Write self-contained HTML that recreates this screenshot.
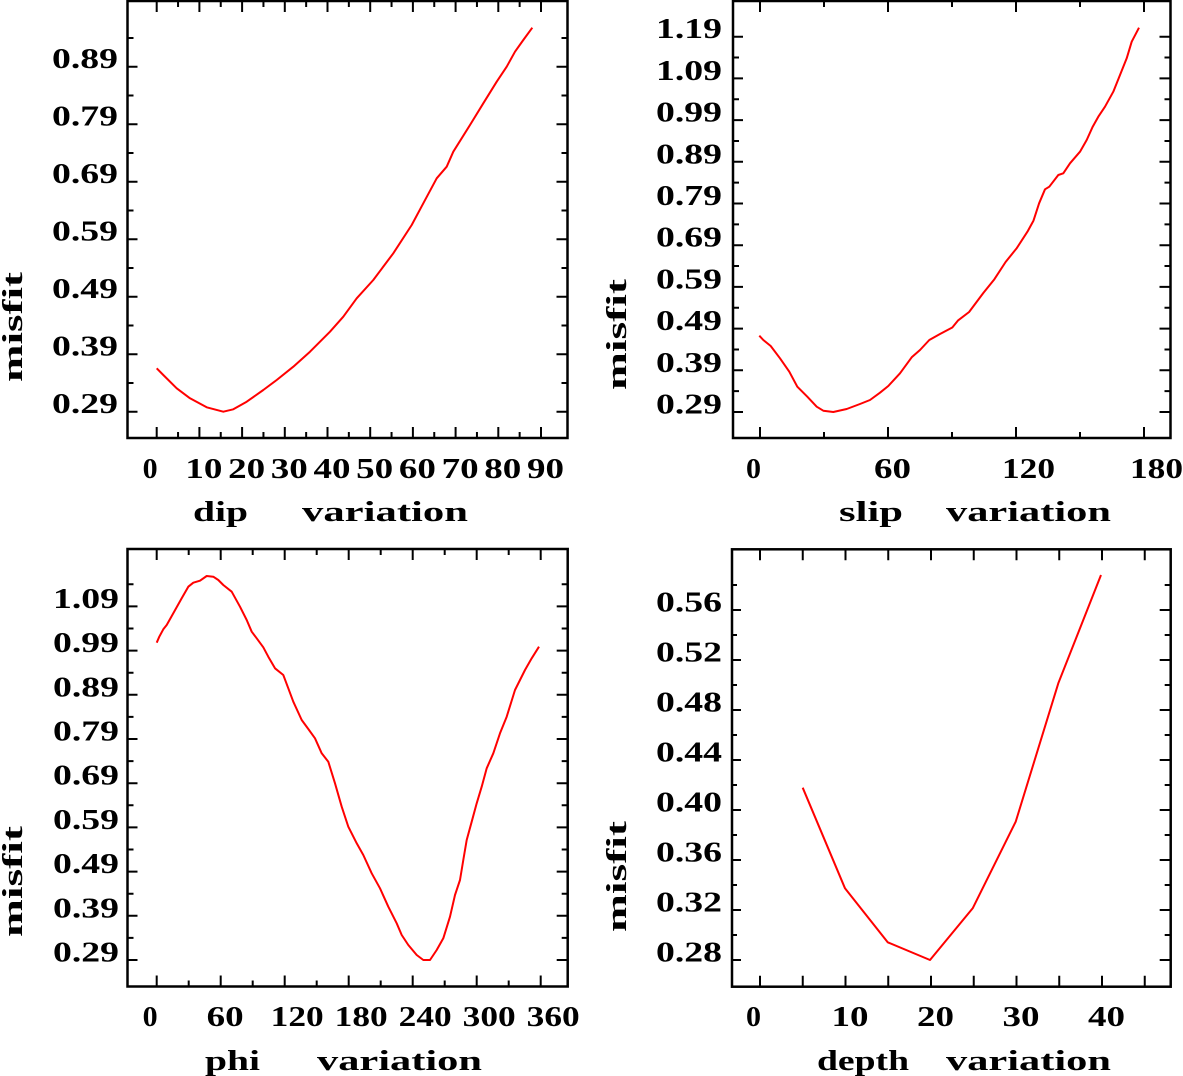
<!DOCTYPE html>
<html><head><meta charset="utf-8"><style>
html,body{margin:0;padding:0;background:#fff;}
svg{display:block;}
text{font-family:"Liberation Serif","DejaVu Serif",serif;font-weight:bold;fill:#000;}
.n{font-size:29px;}
.t{font-size:28px;}
</style></head><body>
<svg width="1183" height="1076" viewBox="0 0 1183 1076" xmlns="http://www.w3.org/2000/svg">
<rect width="1183" height="1076" fill="#fff"/>

<!-- ===== Panel TL: dip ===== -->
<rect x="127.5" y="1" width="440" height="437" fill="none" stroke="#000" stroke-width="2.5"/>
<path stroke="#000" stroke-width="2" fill="none" d="
M156.7 438v-11M178.05 438v-6M199.4 438v-11M220.75 438v-6M242.1 438v-11M263.45 438v-6M284.8 438v-11M306.15 438v-6M327.5 438v-11M348.85 438v-6M370.2 438v-11M391.55 438v-6M412.9 438v-11M434.25 438v-6M455.6 438v-11M476.95 438v-6M498.3 438v-11M519.65 438v-6M541 438v-11
M156.7 1v11M178.05 1v6M199.4 1v11M220.75 1v6M242.1 1v11M263.45 1v6M284.8 1v11M306.15 1v6M327.5 1v11M348.85 1v6M370.2 1v11M391.55 1v6M412.9 1v11M434.25 1v6M455.6 1v11M476.95 1v6M498.3 1v11M519.65 1v6M541 1v11
M127.5 411.7h10M127.5 382.95h6M127.5 354.2h10M127.5 325.45h6M127.5 296.7h10M127.5 267.95h6M127.5 239.2h10M127.5 210.45h6M127.5 181.7h10M127.5 152.95h6M127.5 124.2h10M127.5 95.45h6M127.5 66.7h10M127.5 37.95h6
M567.5 411.7h-11M567.5 382.95h-6M567.5 354.2h-11M567.5 325.45h-6M567.5 296.7h-11M567.5 267.95h-6M567.5 239.2h-11M567.5 210.45h-6M567.5 181.7h-11M567.5 152.95h-6M567.5 124.2h-11M567.5 95.45h-6M567.5 66.7h-11M567.5 37.95h-6"/>
<g class="n">
<text x="52" y="413.2" textLength="66" lengthAdjust="spacingAndGlyphs">0.29</text>
<text x="52" y="355.7" textLength="66" lengthAdjust="spacingAndGlyphs">0.39</text>
<text x="52" y="298.2" textLength="66" lengthAdjust="spacingAndGlyphs">0.49</text>
<text x="52" y="240.7" textLength="66" lengthAdjust="spacingAndGlyphs">0.59</text>
<text x="52" y="183.2" textLength="66" lengthAdjust="spacingAndGlyphs">0.69</text>
<text x="52" y="125.7" textLength="66" lengthAdjust="spacingAndGlyphs">0.79</text>
<text x="52" y="68.2" textLength="66" lengthAdjust="spacingAndGlyphs">0.89</text>
<text x="142.7" y="478" textLength="15" lengthAdjust="spacingAndGlyphs">0</text>
<text x="185.4" y="478" textLength="37" lengthAdjust="spacingAndGlyphs">10</text>
<text x="228.1" y="478" textLength="37" lengthAdjust="spacingAndGlyphs">20</text>
<text x="270.8" y="478" textLength="37" lengthAdjust="spacingAndGlyphs">30</text>
<text x="313.5" y="478" textLength="37" lengthAdjust="spacingAndGlyphs">40</text>
<text x="356.2" y="478" textLength="37" lengthAdjust="spacingAndGlyphs">50</text>
<text x="398.9" y="478" textLength="37" lengthAdjust="spacingAndGlyphs">60</text>
<text x="441.6" y="478" textLength="37" lengthAdjust="spacingAndGlyphs">70</text>
<text x="484.3" y="478" textLength="37" lengthAdjust="spacingAndGlyphs">80</text>
<text x="527" y="478" textLength="37" lengthAdjust="spacingAndGlyphs">90</text>
</g>
<g class="t">
<text x="193" y="521" textLength="55" lengthAdjust="spacingAndGlyphs">dip</text>
<text x="302" y="521" textLength="166" lengthAdjust="spacingAndGlyphs">variation</text>
<text transform="translate(22,382) rotate(-90)" x="0" y="0" textLength="110" lengthAdjust="spacingAndGlyphs">misfit</text>
</g>
<polyline fill="none" stroke="#f00" stroke-width="2" stroke-linejoin="round" points="156.7,368.3 163.3,375 176.7,388.3 190,398.3 206.7,407.3 223.3,411.7 233.3,409.3 246.7,401.7 263.3,390 276.7,380 293.3,366.7 310,351.7 330,331.7 343.3,316.7 356.7,298.3 373.3,280 393.3,253.3 411.7,225 423.3,203.3 436.7,178.3 446.7,166.7 453.3,151.7 470,125 483.3,103.3 496.7,81.7 506.7,66.7 515,51.7 523.3,40 532.3,27.7"/>

<!-- ===== Panel TR: slip ===== -->
<rect x="733" y="1" width="437.5" height="437" fill="none" stroke="#000" stroke-width="2.5"/>
<path stroke="#000" stroke-width="2" fill="none" d="
M760 438v-11M824 438v-6M888 438v-11M952 438v-6M1016 438v-11M1080 438v-6M1144 438v-11
M760 1v11M824 1v6M888 1v11M952 1v6M1016 1v11M1080 1v6M1144 1v11
M733 412h10M733 391.15h6M733 370.3h10M733 349.45h6M733 328.6h10M733 307.75h6M733 286.9h10M733 266.05h6M733 245.2h10M733 224.35h6M733 203.5h10M733 182.65h6M733 161.8h10M733 140.95h6M733 120.1h10M733 99.25h6M733 78.4h10M733 57.55h6M733 36.7h10
M1170.5 412h-11M1170.5 391.15h-6M1170.5 370.3h-11M1170.5 349.45h-6M1170.5 328.6h-11M1170.5 307.75h-6M1170.5 286.9h-11M1170.5 266.05h-6M1170.5 245.2h-11M1170.5 224.35h-6M1170.5 203.5h-11M1170.5 182.65h-6M1170.5 161.8h-11M1170.5 140.95h-6M1170.5 120.1h-11M1170.5 99.25h-6M1170.5 78.4h-11M1170.5 57.55h-6M1170.5 36.7h-11"/>
<g class="n">
<text x="656" y="413.5" textLength="66" lengthAdjust="spacingAndGlyphs">0.29</text>
<text x="656" y="371.8" textLength="66" lengthAdjust="spacingAndGlyphs">0.39</text>
<text x="656" y="330.1" textLength="66" lengthAdjust="spacingAndGlyphs">0.49</text>
<text x="656" y="288.4" textLength="66" lengthAdjust="spacingAndGlyphs">0.59</text>
<text x="656" y="246.7" textLength="66" lengthAdjust="spacingAndGlyphs">0.69</text>
<text x="656" y="205" textLength="66" lengthAdjust="spacingAndGlyphs">0.79</text>
<text x="656" y="163.3" textLength="66" lengthAdjust="spacingAndGlyphs">0.89</text>
<text x="656" y="121.6" textLength="66" lengthAdjust="spacingAndGlyphs">0.99</text>
<text x="656" y="79.9" textLength="66" lengthAdjust="spacingAndGlyphs">1.09</text>
<text x="656" y="38.2" textLength="66" lengthAdjust="spacingAndGlyphs">1.19</text>
<text x="746" y="478" textLength="15" lengthAdjust="spacingAndGlyphs">0</text>
<text x="874" y="478" textLength="37" lengthAdjust="spacingAndGlyphs">60</text>
<text x="1002" y="478" textLength="53" lengthAdjust="spacingAndGlyphs">120</text>
<text x="1130" y="478" textLength="53" lengthAdjust="spacingAndGlyphs">180</text>
</g>
<g class="t">
<text x="839" y="521" textLength="64" lengthAdjust="spacingAndGlyphs">slip</text>
<text x="946" y="521" textLength="165" lengthAdjust="spacingAndGlyphs">variation</text>
<text transform="translate(626,390) rotate(-90)" x="0" y="0" textLength="111" lengthAdjust="spacingAndGlyphs">misfit</text>
</g>
<polyline fill="none" stroke="#f00" stroke-width="2" stroke-linejoin="round" points="759.3,335.7 763.3,340 770.7,346 780,358.3 789.3,371.7 797.3,386.7 807.3,396.7 816.7,406.7 823.3,410.7 833.3,412 846.7,409 860,404 870,400 880,392.7 888.3,386 900,373.3 911.7,357.3 920,350 929.3,340 940,334 952.3,327.5 957.9,320.6 969.1,312 983.3,293 994.4,279.2 1005.6,262 1016.7,248.2 1027.9,230.9 1033.5,220.6 1039.1,203.3 1045,189.3 1049.3,186.7 1058.3,175 1063.3,173.3 1070,163.3 1080,151.7 1086.7,140 1092.7,126.7 1098.3,116.7 1105,106.7 1113.3,91.7 1120,75 1126.7,58.3 1131.7,41.7 1139,27.7"/>

<!-- ===== Panel BL: phi ===== -->
<rect x="127.5" y="549" width="440.2" height="437.5" fill="none" stroke="#000" stroke-width="2.5"/>
<path stroke="#000" stroke-width="2" fill="none" d="
M156.7 986.5v-11M188.7 986.5v-6M220.7 986.5v-11M252.7 986.5v-6M284.7 986.5v-11M316.7 986.5v-6M348.7 986.5v-11M380.7 986.5v-6M412.7 986.5v-11M444.7 986.5v-6M476.7 986.5v-11M508.7 986.5v-6M540.7 986.5v-11
M156.7 549v11M188.7 549v6M220.7 549v11M252.7 549v6M284.7 549v11M316.7 549v6M348.7 549v11M380.7 549v6M412.7 549v11M444.7 549v6M476.7 549v11M508.7 549v6M540.7 549v11
M127.5 960h10M127.5 937.9h6M127.5 915.8h10M127.5 893.7h6M127.5 871.6h10M127.5 849.5h6M127.5 827.4h10M127.5 805.3h6M127.5 783.2h10M127.5 761.1h6M127.5 739h10M127.5 716.9h6M127.5 694.8h10M127.5 672.7h6M127.5 650.6h10M127.5 628.5h6M127.5 606.4h10M127.5 584.3h6
M567.7 960h-11M567.7 937.9h-6M567.7 915.8h-11M567.7 893.7h-6M567.7 871.6h-11M567.7 849.5h-6M567.7 827.4h-11M567.7 805.3h-6M567.7 783.2h-11M567.7 761.1h-6M567.7 739h-11M567.7 716.9h-6M567.7 694.8h-11M567.7 672.7h-6M567.7 650.6h-11M567.7 628.5h-6M567.7 606.4h-11M567.7 584.3h-6"/>
<g class="n">
<text x="53" y="961.5" textLength="66" lengthAdjust="spacingAndGlyphs">0.29</text>
<text x="53" y="917.3" textLength="66" lengthAdjust="spacingAndGlyphs">0.39</text>
<text x="53" y="873.1" textLength="66" lengthAdjust="spacingAndGlyphs">0.49</text>
<text x="53" y="828.9" textLength="66" lengthAdjust="spacingAndGlyphs">0.59</text>
<text x="53" y="784.7" textLength="66" lengthAdjust="spacingAndGlyphs">0.69</text>
<text x="53" y="740.5" textLength="66" lengthAdjust="spacingAndGlyphs">0.79</text>
<text x="53" y="696.3" textLength="66" lengthAdjust="spacingAndGlyphs">0.89</text>
<text x="53" y="652.1" textLength="66" lengthAdjust="spacingAndGlyphs">0.99</text>
<text x="53" y="607.9" textLength="66" lengthAdjust="spacingAndGlyphs">1.09</text>
<text x="142.7" y="1026" textLength="15" lengthAdjust="spacingAndGlyphs">0</text>
<text x="206.7" y="1026" textLength="37" lengthAdjust="spacingAndGlyphs">60</text>
<text x="270.7" y="1026" textLength="53" lengthAdjust="spacingAndGlyphs">120</text>
<text x="334.7" y="1026" textLength="53" lengthAdjust="spacingAndGlyphs">180</text>
<text x="398.7" y="1026" textLength="53" lengthAdjust="spacingAndGlyphs">240</text>
<text x="462.7" y="1026" textLength="53" lengthAdjust="spacingAndGlyphs">300</text>
<text x="526.7" y="1026" textLength="53" lengthAdjust="spacingAndGlyphs">360</text>
</g>
<g class="t">
<text x="205" y="1070" textLength="55" lengthAdjust="spacingAndGlyphs">phi</text>
<text x="317" y="1070" textLength="165" lengthAdjust="spacingAndGlyphs">variation</text>
<text transform="translate(22,937) rotate(-90)" x="0" y="0" textLength="111" lengthAdjust="spacingAndGlyphs">misfit</text>
</g>
<polyline fill="none" stroke="#f00" stroke-width="2" stroke-linejoin="round" points="156.7,642.7 159.3,636.7 163.3,629.3 166.7,625 173.3,613.3 181.7,598.3 188.3,586.7 193.3,582.7 200,580.7 206.7,576 213.3,576.7 218.3,580 223.3,585 231.7,591.7 240,606.7 246.7,620 251.7,631.7 256.7,638.3 263.3,647.3 268.3,656.7 275,668.3 283.3,675 288.3,688.3 293.3,701.7 301.7,720 308.3,729 315,738.3 321.7,753.3 328.3,761.7 335,783.3 341.7,806.7 348.3,826.7 356.7,843.3 363.3,855 371.7,873.3 380,888.3 388.3,906.7 396.7,923.3 401.7,935 408.3,945 416.7,955 423.3,960 430,960 436.7,950 443.3,938.3 450,916.7 455,895 460,880 463.3,860 466.7,840 471.7,821.7 476.7,803.3 481.7,786.7 486.7,768.3 493.3,753.3 500,733.3 506.7,716.7 515,690 525,670 531.7,658.3 539,646.7"/>

<!-- ===== Panel BR: depth ===== -->
<rect x="732" y="549.3" width="438.7" height="437.4" fill="none" stroke="#000" stroke-width="2.5"/>
<path stroke="#000" stroke-width="2" fill="none" d="
M760 986.7v-11M802.75 986.7v-11M845.5 986.7v-11M888.25 986.7v-11M931 986.7v-11M973.75 986.7v-11M1016.5 986.7v-11M1059.25 986.7v-11M1102 986.7v-11M1144.75 986.7v-11
M760 549.3v11M802.75 549.3v11M845.5 549.3v11M888.25 549.3v11M931 549.3v11M973.75 549.3v11M1016.5 549.3v11M1059.25 549.3v11M1102 549.3v11M1144.75 549.3v11
M732 960h9M732 935h5M732 910h9M732 885h5M732 860h9M732 835h5M732 810h9M732 785h5M732 760h9M732 735h5M732 710h9M732 685h5M732 660h9M732 635h5M732 610h9M732 585h5
M1170.7 960h-11M1170.7 935h-6M1170.7 910h-11M1170.7 885h-6M1170.7 860h-11M1170.7 835h-6M1170.7 810h-11M1170.7 785h-6M1170.7 760h-11M1170.7 735h-6M1170.7 710h-11M1170.7 685h-6M1170.7 660h-11M1170.7 635h-6M1170.7 610h-11M1170.7 585h-6"/>
<g class="n">
<text x="656" y="961.5" textLength="66" lengthAdjust="spacingAndGlyphs">0.28</text>
<text x="656" y="911.5" textLength="66" lengthAdjust="spacingAndGlyphs">0.32</text>
<text x="656" y="861.5" textLength="66" lengthAdjust="spacingAndGlyphs">0.36</text>
<text x="656" y="811.5" textLength="66" lengthAdjust="spacingAndGlyphs">0.40</text>
<text x="656" y="761.5" textLength="66" lengthAdjust="spacingAndGlyphs">0.44</text>
<text x="656" y="711.5" textLength="66" lengthAdjust="spacingAndGlyphs">0.48</text>
<text x="656" y="661.5" textLength="66" lengthAdjust="spacingAndGlyphs">0.52</text>
<text x="656" y="611.5" textLength="66" lengthAdjust="spacingAndGlyphs">0.56</text>
<text x="746" y="1026" textLength="15" lengthAdjust="spacingAndGlyphs">0</text>
<text x="831.5" y="1026" textLength="37" lengthAdjust="spacingAndGlyphs">10</text>
<text x="917" y="1026" textLength="37" lengthAdjust="spacingAndGlyphs">20</text>
<text x="1002.5" y="1026" textLength="37" lengthAdjust="spacingAndGlyphs">30</text>
<text x="1088" y="1026" textLength="37" lengthAdjust="spacingAndGlyphs">40</text>
</g>
<g class="t">
<text x="817" y="1070" textLength="92" lengthAdjust="spacingAndGlyphs">depth</text>
<text x="946" y="1070" textLength="165" lengthAdjust="spacingAndGlyphs">variation</text>
<text transform="translate(626,932) rotate(-90)" x="0" y="0" textLength="111" lengthAdjust="spacingAndGlyphs">misfit</text>
</g>
<polyline fill="none" stroke="#f00" stroke-width="2" stroke-linejoin="round" points="802.7,787.7 845,888.3 887.7,942.3 930,960 972.7,908.3 1015.7,821.7 1058.3,683.3 1101,575"/>
</svg>
</body></html>
